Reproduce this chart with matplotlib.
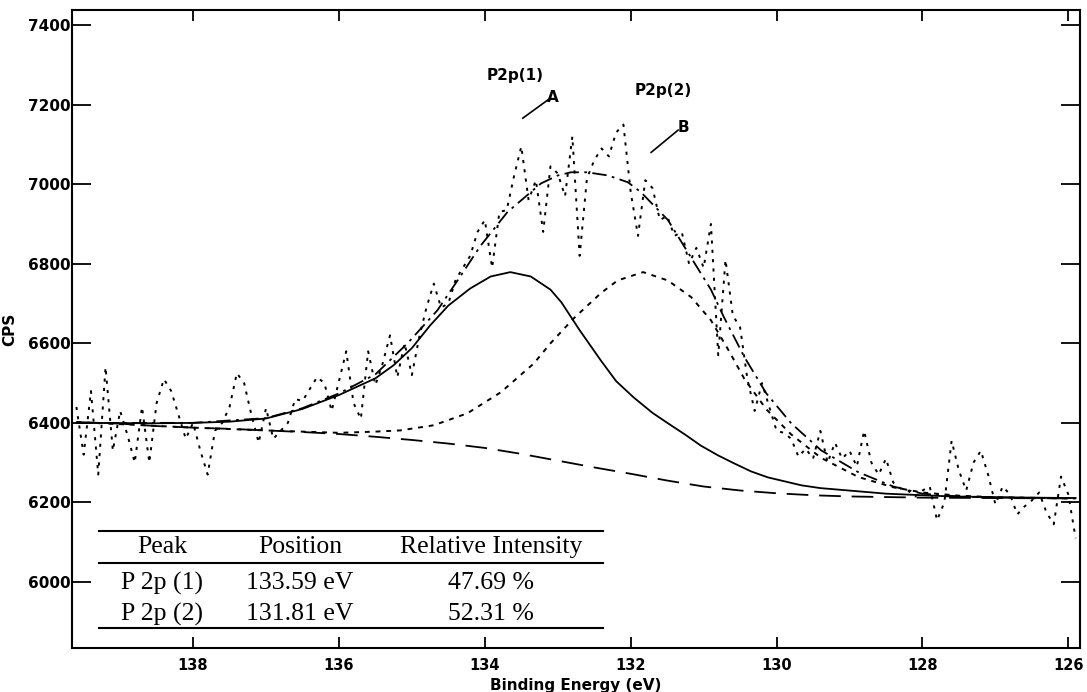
import numpy as np
import matplotlib
matplotlib.use("Agg")
import matplotlib.pyplot as plt
from matplotlib.lines import Line2D

# ---------------- data ----------------
e_start, e_step = 139.6, 0.1
cps = [6440, 6320, 6480, 6270, 6540, 6330, 6430,
       6370, 6300, 6440, 6300, 6450, 6510, 6480, 6420, 6360, 6400,
       6330, 6270, 6380, 6400, 6440, 6525, 6500, 6420, 6350, 6437,
       6360, 6380, 6400, 6460, 6455, 6485, 6515, 6500, 6430, 6505,
       6580, 6450, 6410, 6580, 6495, 6550, 6620, 6515, 6600, 6520,
       6615, 6690, 6750, 6690, 6700, 6760, 6790, 6820, 6880, 6910,
       6790, 6930, 6935, 7020, 7095, 6960, 7010, 6880, 7045, 7027,
       6970, 7120, 6820, 7015, 7060, 7090, 7070, 7130, 7150, 6980,
       6870, 7010, 6990, 6910, 6920, 6870, 6880, 6800, 6840, 6790,
       6900, 6570, 6810, 6670, 6640, 6510, 6430, 6500, 6440, 6380,
       6375, 6360, 6315, 6335, 6310, 6380, 6300, 6350, 6310, 6330,
       6290, 6380, 6300, 6270, 6310, 6250, 6235, 6230, 6215, 6230,
       6240, 6155, 6200, 6355, 6280, 6230, 6300, 6330, 6270, 6195,
       6240, 6220, 6170, 6190, 6205, 6225, 6175, 6145, 6265, 6220,
       6110]

bg_e = [139.6, 139.0, 138.5, 138.0, 137.5, 137.0, 136.5, 136.0, 135.5, 135.0,
        134.5, 134.0, 133.5, 133.0, 132.5, 132.0, 131.5, 131.0, 130.5, 130.0,
        129.5, 129.0, 128.0, 127.0, 125.9]
bg_cps = [6402, 6398, 6392, 6388, 6385, 6381, 6377, 6372, 6365, 6357,
          6348, 6337, 6322, 6305, 6288, 6272, 6255, 6240, 6230, 6223,
          6218, 6215, 6212, 6211, 6210]

p1_e = [139.6, 138.5, 138.0, 137.5, 137.0, 136.5, 136.0, 135.5, 135.25, 135.0,
        134.75, 134.5, 134.2, 133.92, 133.65, 133.37, 133.1, 132.95, 132.7, 132.41,
        132.2, 131.96, 131.7, 131.49, 131.25, 131.04, 130.8, 130.58, 130.35, 130.12,
        129.66, 129.4, 128.5, 127.6, 126.5, 125.9]
p1_cps = [6400, 6399, 6400, 6403, 6411, 6435, 6470, 6512, 6545, 6588,
          6645, 6695, 6738, 6768, 6779, 6768, 6735, 6703, 6633, 6557,
          6505, 6464, 6425, 6399, 6370, 6343, 6318, 6298, 6278, 6263,
          6243, 6236, 6222, 6215, 6212, 6211]

p2_e = [139.6, 138.0, 137.0, 136.5, 136.0, 135.5, 135.16, 134.7, 134.24, 133.78,
        133.33, 133.1, 132.78, 132.41, 132.18, 131.83, 131.49, 131.17, 130.9, 130.65,
        130.44, 130.14, 129.8, 129.39, 128.88, 128.4, 128.0, 127.5, 127.0, 126.0, 125.9]
p2_cps = [6402, 6388, 6381, 6378, 6375, 6378, 6381, 6394, 6424, 6477,
          6549, 6600, 6663, 6726, 6758, 6779, 6758, 6716, 6658, 6580,
          6510, 6434, 6371, 6312, 6264, 6238, 6225, 6217, 6213, 6210, 6210]

env_e = [139.6, 138.0, 137.0, 136.5, 136.0, 135.5, 135.06, 134.65, 134.33, 134.06,
         133.69, 133.23, 133.0, 132.82, 132.6, 132.31, 132.04, 131.86, 131.49, 131.17,
         130.9, 130.72, 130.44, 130.14, 129.8, 129.39, 128.88, 128.4, 128.0, 127.5,
         127.0, 125.9]
env_cps = [6400, 6400, 6412, 6437, 6474, 6522, 6600, 6683, 6770, 6845,
           6930, 7002, 7022, 7030, 7030, 7022, 7005, 6980, 6910, 6815,
           6735, 6665, 6565, 6474, 6399, 6331, 6276, 6240, 6222, 6215,
           6212, 6211]

x_ticks = [138, 136, 134, 132, 130, 128, 126]
y_ticks = [6000, 6200, 6400, 6600, 6800, 7000, 7200, 7400]

tbl_header = ["Peak", "Position", "Relative Intensity"]
tbl_peaks = ["P 2p (1)", "P 2p (2)"]
tbl_pos = ["133.59 eV", "131.81 eV"]
tbl_int = ["47.69 %", "52.31 %"]

# ---------------- figure ----------------
W, H = 1087, 692
fig = plt.figure(figsize=(W / 100, H / 100), dpi=100)
L, R, T, B = 72, 1080, 10, 648
ax = fig.add_axes([L / W, 1 - B / H, (R - L) / W, (B - T) / H])

energy = np.round(e_start - e_step * np.arange(len(cps)), 1)
ax.plot(energy, cps, color="black", lw=1.4, linestyle=(0, (1.6, 3.2)))
ax.plot(bg_e, bg_cps, color="black", lw=1.3, linestyle=(0, (12, 6)))
ax.plot(p1_e, p1_cps, color="black", lw=1.3, linestyle="-")
ax.plot(p2_e, p2_cps, color="black", lw=1.4, linestyle=(0, (2.5, 3)))
ax.plot(env_e, env_cps, color="black", lw=1.3, linestyle=(0, (8, 3, 1.5, 3)))

ax.set_xlim(139.66, 125.84)
ax.set_ylim(5834, 7438)
ax.set_xticks(x_ticks)
ax.set_yticks(y_ticks)
ax.set_xticklabels([str(t) for t in x_ticks], fontweight="bold", fontsize=10.5,
                   family="DejaVu Sans")
ax.set_yticklabels([str(t) for t in y_ticks], fontweight="bold", fontsize=11,
                   family="DejaVu Sans")
ax.tick_params(axis="x", direction="in", length=8, width=1.3, top=True, bottom=True, pad=7)
ax.tick_params(axis="y", direction="in", length=14, width=1.3, left=True, right=True, pad=1)
for s in ax.spines.values():
    s.set_linewidth(1.5)

ax.set_ylabel("CPS", fontweight="bold", fontsize=11, family="DejaVu Sans", labelpad=8)
ax.set_xlabel("Binding Energy (eV)", fontweight="bold", fontsize=11,
              family="DejaVu Sans", labelpad=4)

# annotations
ann_kw = dict(fontweight="bold", fontsize=11, family="DejaVu Sans",
              ha="center", va="center")
ax.text(133.58, 7274, "P2p(1)", **ann_kw)
ax.text(133.07, 7219, "A", **ann_kw)
ax.plot([133.48, 133.12], [7166, 7214], color="black", lw=1.2)
ax.text(131.56, 7236, "P2p(2)", **ann_kw)
ax.text(131.28, 7143, "B", **ann_kw)
ax.plot([131.72, 131.35], [7080, 7136], color="black", lw=1.2)

# table
def fx(px):
    return px / W

def fy(py):
    return 1 - py / H

for py in (531, 563, 628):
    fig.add_artist(Line2D([fx(99), fx(603)], [fy(py), fy(py)], color="black", lw=1.5))

serif = dict(family="Liberation Serif", fontsize=18.5, ha="center", va="center")
col_x = [162, 300, 491]
for cx, txt in zip(col_x, tbl_header):
    fig.text(fx(cx), fy(547), txt, **serif)
for i, ry in enumerate((583, 614)):
    fig.text(fx(col_x[0]), fy(ry), tbl_peaks[i], **serif)
    fig.text(fx(col_x[1]), fy(ry), tbl_pos[i], **serif)
    fig.text(fx(col_x[2]), fy(ry), tbl_int[i], **serif)

fig.savefig("out.png", dpi=100)
